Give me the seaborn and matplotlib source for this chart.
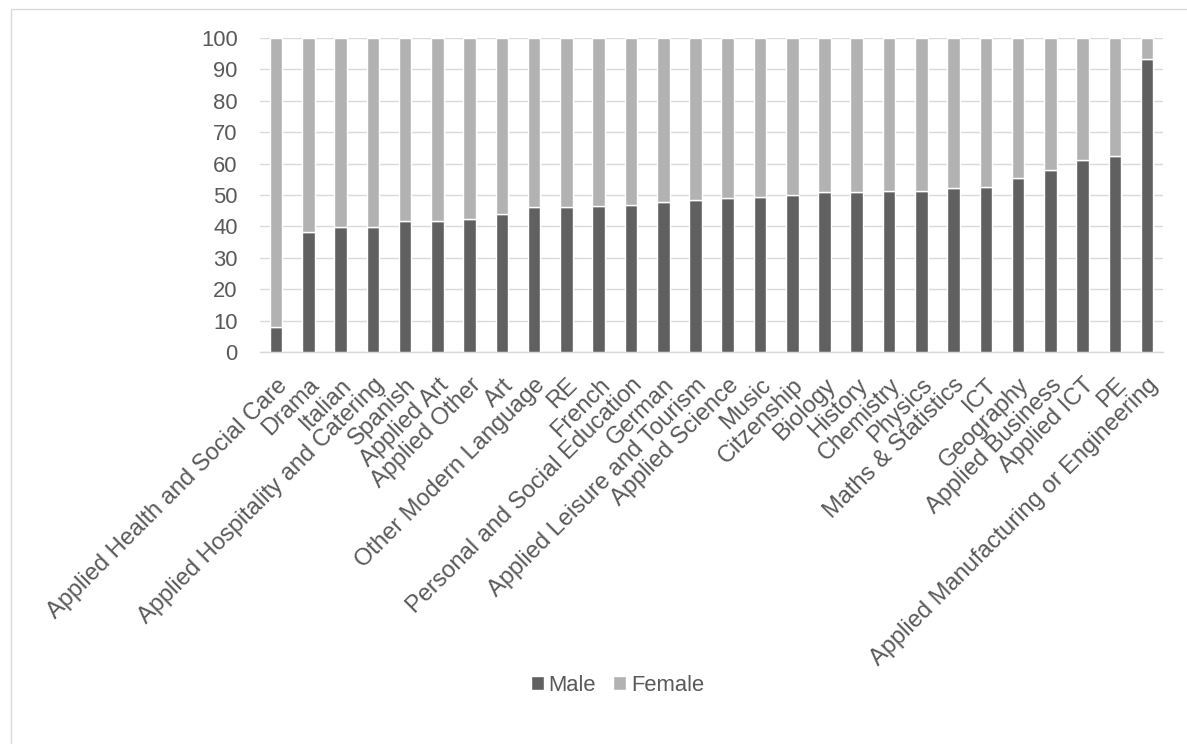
import matplotlib
matplotlib.use("Agg")
import matplotlib.pyplot as plt
from matplotlib.patches import Patch
import seaborn as sns
import pandas as pd

subjects = [
    "Applied Health and Social Care", "Drama", "Italian",
    "Applied Hospitality and Catering", "Spanish", "Applied Art",
    "Applied Other", "Art", "Other Modern Language", "RE", "French",
    "Personal and Social Education", "German", "Applied Leisure and Tourism",
    "Applied Science", "Music", "Citzenship", "Biology", "History",
    "Chemistry", "Physics", "Maths & Statistics", "ICT", "Geography",
    "Applied Business", "Applied ICT", "PE",
    "Applied Manufacturing or Engineering",
]
male = [7.8, 38.1, 39.7, 39.9, 41.6, 41.8, 42.4, 44.0, 46.3, 46.3, 46.4,
        46.9, 47.7, 48.5, 48.9, 49.2, 49.9, 50.8, 50.9, 51.4, 51.4, 52.1,
        52.4, 55.3, 57.9, 61.0, 62.5, 93.2]
female = [92.2, 61.9, 60.3, 60.1, 58.4, 58.2, 57.6, 56.0, 53.7, 53.7, 53.6,
          53.1, 52.3, 51.5, 51.1, 50.8, 50.1, 49.2, 49.1, 48.6, 48.6, 47.9,
          47.6, 44.7, 42.1, 39.0, 37.5, 6.8]
y_ticks = [0, 10, 20, 30, 40, 50, 60, 70, 80, 90, 100]

MALE_COLOR = "#606060"
FEMALE_COLOR = "#b2b2b2"
TEXT_COLOR = "#595959"

df = pd.DataFrame({"subject": subjects, "male": male, "female": female})

sns.set_style("white")
plt.rcParams["font.family"] = ["Liberation Sans", "DejaVu Sans"]

fig = plt.figure(figsize=(11.87, 7.44), dpi=100)
ax = fig.add_axes([0.219, 0.527, 0.761, 0.422])

sns.barplot(data=df, x="subject", y="male", color=MALE_COLOR, width=0.39,
            saturation=1, ax=ax, zorder=3)
sns.barplot(data=df, x="subject", y="female", bottom=df["male"],
            color=FEMALE_COLOR, width=0.39, saturation=1, ax=ax, zorder=3)

ax.set_xlim(-0.5, len(subjects) - 0.5)
ax.set_ylim(0, 100)
ax.set_yticks(y_ticks)
ax.set_yticklabels([str(t) for t in y_ticks])
ax.set_xlabel("")
ax.set_ylabel("")

ax.yaxis.grid(True, color="#d9d9d9", linewidth=1.0, zorder=0)
ax.set_axisbelow(True)
for side in ("left", "right", "top"):
    ax.spines[side].set_visible(False)
ax.spines["bottom"].set_color("#d9d9d9")
ax.spines["bottom"].set_linewidth(1.0)

ax.tick_params(axis="y", length=0, pad=16, labelsize=15.8, labelcolor=TEXT_COLOR)
ax.tick_params(axis="x", length=0, pad=16, labelsize=17, labelcolor=TEXT_COLOR)
for lbl in ax.get_xticklabels():
    lbl.set_rotation(45)
    lbl.set_ha("right")
    lbl.set_va("top")
    lbl.set_rotation_mode("anchor")

handles = [Patch(facecolor=MALE_COLOR, label="Male"),
           Patch(facecolor=FEMALE_COLOR, label="Female")]
fig.legend(handles=handles, loc="center", bbox_to_anchor=(0.52, 0.079),
           ncol=2, frameon=False, fontsize=15.8, handlelength=0.6,
           handleheight=0.6, handletextpad=0.2, columnspacing=0.8,
           labelcolor=TEXT_COLOR)

# chart-area border (right and bottom edges fall outside the canvas)
top = 1 - 8.5 / 744
fig.patches.append(plt.Rectangle((11 / 1187, -0.01), 1.02, top + 0.01,
                                 transform=fig.transFigure, fill=False,
                                 edgecolor="#d9d9d9", linewidth=1.0))

fig.savefig("out.png", dpi=100, facecolor="white")
